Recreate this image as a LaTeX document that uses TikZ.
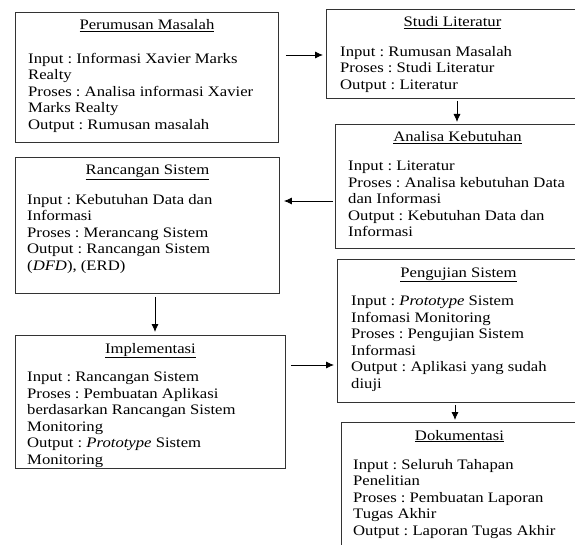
\documentclass[tikz,border=0pt]{standalone}
\usepackage{fontspec}
\setmainfont[FakeStretch=1.15]{Liberation Serif}
\usetikzlibrary{arrows.meta}
\frenchspacing
\newcommand{\stagefont}{\fontsize{14.5}{16.5}\selectfont}
\tikzset{
  stagebox/.style={draw=black!80, line width=0.9pt, rectangle, anchor=north west, inner sep=0pt},
  stagetitle/.style={anchor=base, inner sep=0pt, font=\stagefont},
  stagetext/.style={anchor=north west, inner sep=0pt, align=left, font=\stagefont},
  flow/.style={-{Latex[length=8pt,width=7pt]}, line width=0.8pt},
}
\begin{document}
\begin{tikzpicture}[x=1pt,y=-1pt]
\useasboundingbox (0,0) rectangle (575,545);

\node[stagebox, minimum width=263pt, minimum height=130pt] (rumusan) at (15,12) {};
\node[stagebox, minimum width=252pt, minimum height=89pt] (studi) at (326,9) {};
\node[stagebox, minimum width=244pt, minimum height=124pt] (analisa) at (335,124) {};
\node[stagebox, minimum width=264pt, minimum height=136pt] (rancangan) at (15,157) {};
\node[stagebox, minimum width=270pt, minimum height=133pt] (implementasi) at (15,335) {};
\node[stagebox, minimum width=242pt, minimum height=143pt] (pengujian) at (337,259) {};
\node[stagebox, minimum width=236pt, minimum height=140pt] (dokumentasi) at (341,422) {};

\node[stagetitle] (rumusan-title) at ([yshift=-18pt]rumusan.north) {\underline{Perumusan Masalah}};
\node[stagetext] (rumusan-text) at ([shift={(13,41)}]rumusan.north west) {Input : Informasi Xavier Marks\\Realty\\Proses : Analisa informasi Xavier\\Marks Realty\\Output : Rumusan masalah};

\node[stagetitle] (studi-title) at ([yshift=-18pt]studi.north) {\underline{Studi Literatur}};
\node[stagetext] (studi-text) at ([shift={(14,37)}]studi.north west) {Input : Rumusan Masalah\\Proses : Studi Literatur\\Output : Literatur};

\node[stagetitle] (analisa-title) at ([yshift=-18pt]analisa.north) {\underline{Analisa Kebutuhan}};
\node[stagetext] (analisa-text) at ([shift={(13,37)}]analisa.north west) {Input : Literatur\\Proses : Analisa kebutuhan Data\\dan Informasi\\Output : Kebutuhan Data dan\\Informasi};

\node[stagetitle] (rancangan-title) at ([yshift=-18pt]rancangan.north) {\underline{Rancangan Sistem}};
\node[stagetext] (rancangan-text) at ([shift={(12,37)}]rancangan.north west) {Input : Kebutuhan Data dan\\Informasi\\Proses : Merancang Sistem\\Output : Rancangan Sistem\\(\textit{DFD}), (ERD)};

\node[stagetitle] (implementasi-title) at ([yshift=-18pt]implementasi.north) {\underline{Implementasi}};
\node[stagetext] (implementasi-text) at ([shift={(12,37)}]implementasi.north west) {Input : Rancangan Sistem\\Proses : Pembuatan Aplikasi\\berdasarkan Rancangan Sistem\\Monitoring\\Output : \textit{Prototype} Sistem\\Monitoring};

\node[stagetitle] (pengujian-title) at ([yshift=-18pt]pengujian.north) {\underline{Pengujian Sistem}};
\node[stagetext] (pengujian-text) at ([shift={(14,37)}]pengujian.north west) {Input : \textit{Prototype} Sistem\\Infomasi Monitoring\\Proses : Pengujian Sistem\\Informasi\\Output : Aplikasi yang sudah\\diuji};

\node[stagetitle] (dokumentasi-title) at ([yshift=-18pt]dokumentasi.north) {\underline{Dokumentasi}};
\node[stagetext] (dokumentasi-text) at ([shift={(12,37)}]dokumentasi.north west) {Input : Seluruh Tahapan\\Penelitian\\Proses : Pembuatan Laporan\\Tugas Akhir\\Output : Laporan Tugas Akhir};

\draw[flow] ([shift={(7,43)}]rumusan.north east) -- ([shift={(-3,46)}]studi.north west);
\draw[flow] ([shift={(131,2)}]studi.south west) -- ([shift={(122,-2)}]analisa.north west);
\draw[flow] ([shift={(-2,77)}]analisa.north west) -- ([shift={(4,44)}]rancangan.north east);
\draw[flow] ([shift={(140,3)}]rancangan.south west) -- ([shift={(140,-3)}]implementasi.north west);
\draw[flow] ([shift={(5,30)}]implementasi.north east) -- ([shift={(-3,106)}]pengujian.north west);
\draw[flow] ([shift={(118,2)}]pengujian.south west) -- ([shift={(114,-2)}]dokumentasi.north west);
\end{tikzpicture}
\end{document}
